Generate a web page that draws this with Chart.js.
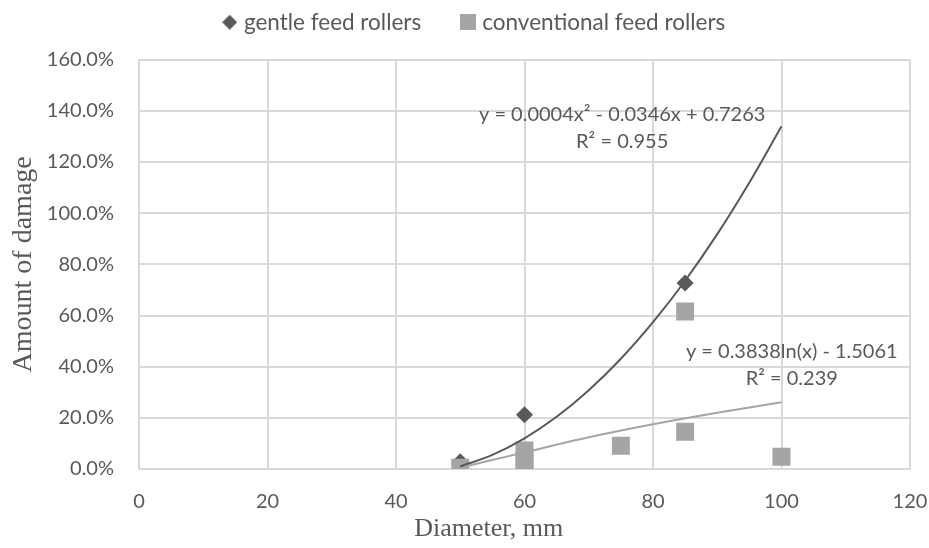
<!DOCTYPE html>
<html>
<head>
<meta charset="utf-8">
<script src="https://cdn.jsdelivr.net/npm/chart.js@4/dist/chart.umd.min.js"></script>
<style>
  html, body { margin: 0; padding: 0; background: #fff; }
  #wrap { width: 929px; height: 548px; }
</style>
</head>
<body>
<div id="wrap"><canvas id="damageChart" width="929" height="548"></canvas></div>
<script>
// measured points
const gentleX = [50, 60, 85];
const gentleY = [0.028, 0.212, 0.727];
const convX = [50, 60, 60, 60, 75, 85, 85, 100];
const convY = [0.005, 0.072, 0.035, 0.003, 0.091, 0.616, 0.146, 0.048];

// trendlines
const polyTrendX = [50, 55, 60, 65, 70, 75, 80, 85, 90, 95, 100];
const polyTrendY = [0.01, 0.055, 0.12, 0.204, 0.308, 0.431, 0.574, 0.736, 0.918, 1.12, 1.34];
const logTrendX = [50, 60, 70, 80, 90, 100];
const logTrendY = [0.005, 0.065, 0.124, 0.175, 0.22, 0.261];

const xTicks = [0, 20, 40, 60, 80, 100, 120];
const legendNames = ['gentle feed rollers', 'conventional feed rollers'];
const trendLabels = [
    { x: 75.2, y: 1.385, lines: ['y = 0.0004x² - 0.0346x + 0.7263', 'R² = 0.955'] },
    { x: 101.6, y: 0.458, lines: ['y = 0.3838ln(x) - 1.5061', 'R² = 0.239'] }
];

const DARK = '#595959', LIGHT = '#a5a5a5', GRID = '#d9d9d9', TEXT = '#595959';
const SANS = 'Lato, "Open Sans", sans-serif';
const SERIF = '"Liberation Serif", "DejaVu Serif", serif';

const toPts = (xs, ys) => xs.map((x, i) => ({ x: x, y: ys[i] }));

// little icons for the legend, sized like the reference
function legendIcon(kind) {
    const c = document.createElement('canvas');
    const s = kind === 'diamond' ? 15 : 16;
    c.width = s; c.height = s;
    const g = c.getContext('2d');
    if (kind === 'diamond') {
        g.fillStyle = DARK;
        g.beginPath();
        g.moveTo(s / 2, 0); g.lineTo(s, s / 2); g.lineTo(s / 2, s); g.lineTo(0, s / 2);
        g.closePath(); g.fill();
    } else {
        g.fillStyle = LIGHT;
        g.fillRect(0, 0, s, s);
    }
    return c;
}
const icons = [legendIcon('diamond'), legendIcon('square')];

const trendTextPlugin = {
    id: 'trendText',
    afterDatasetsDraw(chart) {
        const ctx = chart.ctx, xs = chart.scales.x, ys = chart.scales.y;
        ctx.save();
        ctx.font = '20px ' + SANS;
        ctx.fillStyle = TEXT;
        ctx.textAlign = 'center';
        ctx.textBaseline = 'middle';
        trendLabels.forEach(lbl => {
            const px = xs.getPixelForValue(lbl.x);
            const py = ys.getPixelForValue(lbl.y);
            lbl.lines.forEach((t, i) => ctx.fillText(t, px, py + i * 27));
        });
        ctx.restore();
    }
};

const ctx = document.getElementById('damageChart').getContext('2d');
new Chart(ctx, {
    type: 'scatter',
    data: {
        datasets: [
            { label: legendNames[0], data: toPts(gentleX, gentleY), pointStyle: 'rectRot', pointRadius: 8.5,
              pointHoverRadius: 8.5, backgroundColor: DARK, borderColor: DARK, borderWidth: 0, order: 3 },
            { label: legendNames[1], data: toPts(convX, convY), pointStyle: 'rect', pointRadius: 12.7,
              pointHoverRadius: 12.7, backgroundColor: LIGHT, borderColor: LIGHT, borderWidth: 0, order: 2 },
            { label: 'poly', data: toPts(polyTrendX, polyTrendY), showLine: true, pointRadius: 0,
              borderColor: DARK, borderWidth: 2, cubicInterpolationMode: 'monotone', order: 0 },
            { label: 'log', data: toPts(logTrendX, logTrendY), showLine: true, pointRadius: 0,
              borderColor: LIGHT, borderWidth: 2, cubicInterpolationMode: 'monotone', order: 1 }
        ]
    },
    options: {
        responsive: false,
        animation: false,
        layout: { padding: { left: 4, right: -19, top: 1, bottom: 0 } },
        plugins: {
            tooltip: { enabled: false },
            // empty title used as a spacer between legend and plot
            title: { display: true, text: ' ', weight: 500, font: { size: 1 }, padding: { top: 0, bottom: 15 } },
            legend: {
                position: 'top',
                labels: {
                    color: TEXT,
                    font: { family: SANS, size: 22.5 },
                    usePointStyle: true,
                    boxWidth: 6,
                    boxHeight: 6,
                    padding: 10,
                    generateLabels(chart) {
                        return legendNames.map((name, i) => ({
                            text: i === 0 ? name + '\u2002\u2002\u2002' : name,
                            fillStyle: i === 0 ? DARK : LIGHT,
                            strokeStyle: 'transparent',
                            lineWidth: 0,
                            pointStyle: icons[i],
                            fontColor: TEXT,
                            hidden: false,
                            datasetIndex: i
                        }));
                    }
                }
            }
        },
        scales: {
            x: {
                type: 'linear',
                min: 0, max: 120,
                afterBuildTicks: s => { s.ticks = xTicks.map(v => ({ value: v })); },
                afterFit: s => { s.height = 79; s.paddingLeft = 0; s.paddingRight = 19; },
                grid: { color: GRID, lineWidth: 2, drawTicks: false },
                border: { color: GRID, width: 2 },
                ticks: { color: TEXT, font: { family: SANS, size: 20 }, padding: 21 },
                title: { display: true, text: 'Diameter, mm' + '\u00a0'.repeat(11), color: TEXT,
                         font: { family: SERIF, size: 26 }, padding: { top: 0, bottom: 3 } }
            },
            y: {
                min: 0, max: 1.6,
                afterFit: s => { s.width = 135; },
                grid: { color: GRID, lineWidth: 2, drawTicks: false },
                border: { color: GRID, width: 2 },
                ticks: { stepSize: 0.2, color: TEXT, font: { family: SANS, size: 20 }, padding: 25,
                         callback: v => (v * 100).toFixed(1) + '%' },
                title: { display: true, text: 'Amount of damage', color: TEXT,
                         font: { family: SERIF, size: 28 }, padding: { top: 3, bottom: 0 } }
            }
        }
    },
    plugins: [trendTextPlugin]
});
</script>
</body>
</html>
